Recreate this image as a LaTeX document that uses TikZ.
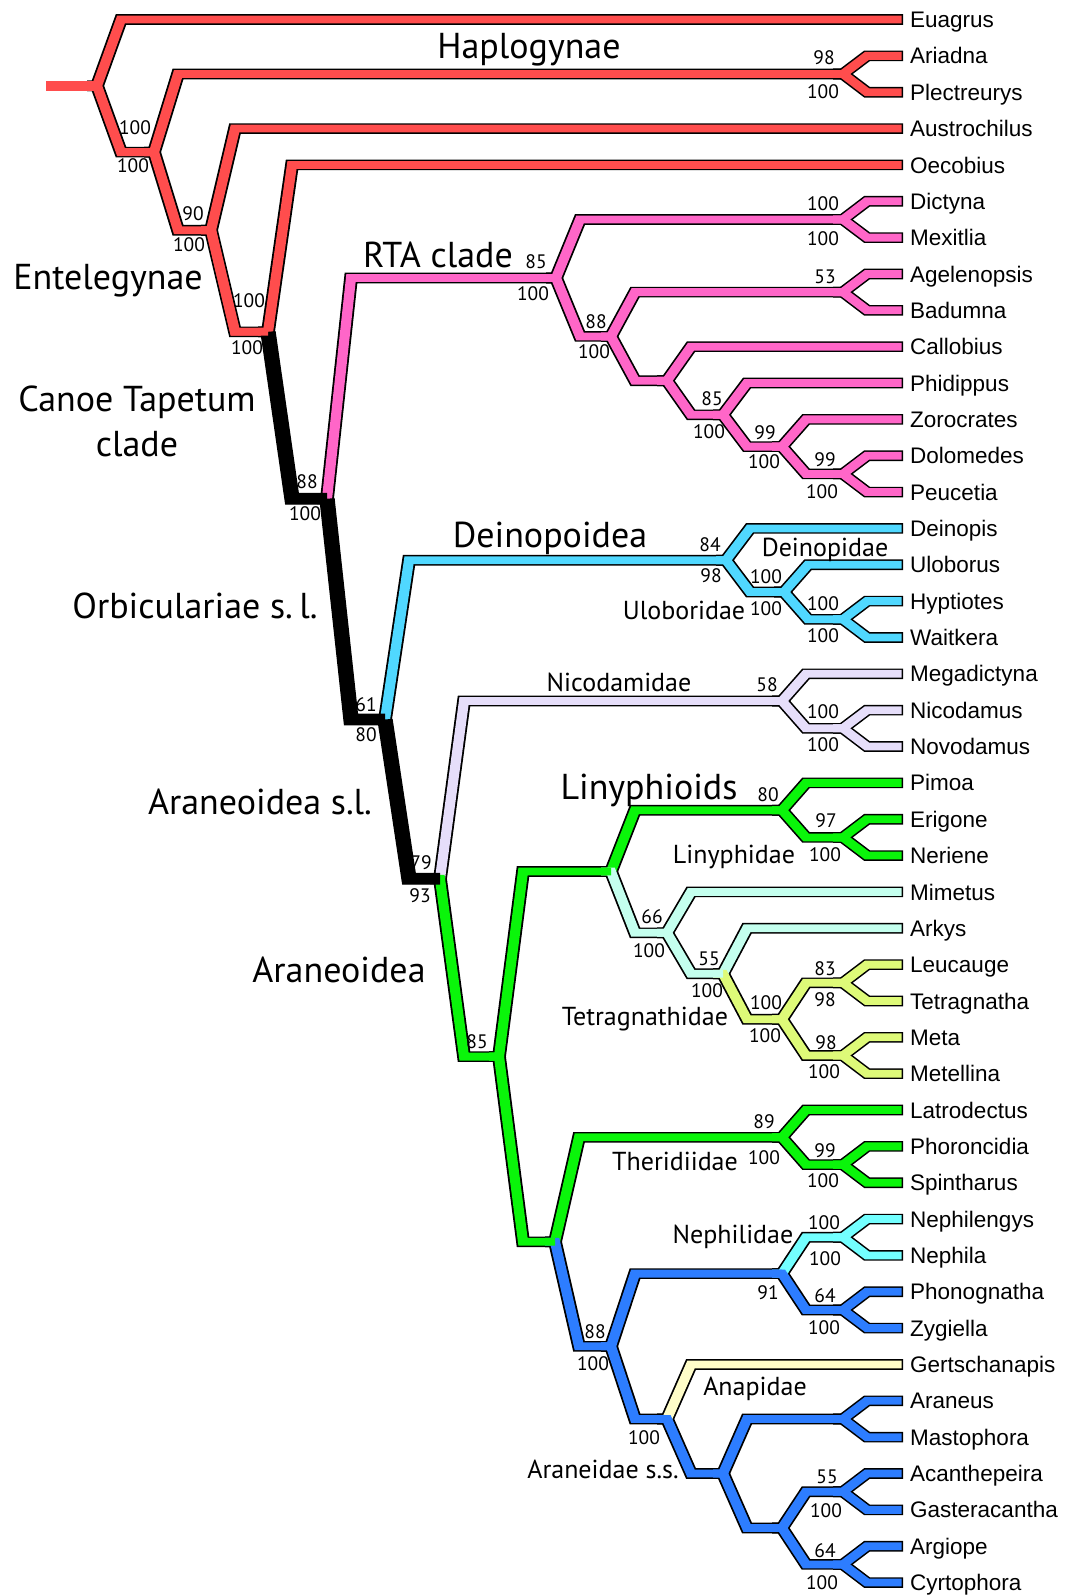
\documentclass[tikz,border=0pt]{standalone}
\usepackage{fontspec}
\setmainfont{PT Sans}
\newfontfamily\tipfont{Liberation Sans}
\usetikzlibrary{calc}
\definecolor{cR}{RGB}{255,77,77}
\definecolor{cP}{RGB}{255,102,200}
\definecolor{cS}{RGB}{80,216,255}
\definecolor{cL}{RGB}{230,222,250}
\definecolor{cG}{RGB}{10,245,10}
\definecolor{cT}{RGB}{196,255,238}
\definecolor{cY}{RGB}{222,250,120}
\definecolor{cC}{RGB}{115,255,255}
\definecolor{cB}{RGB}{45,125,255}
\definecolor{cA}{RGB}{255,253,200}
\definecolor{cK}{RGB}{0,0,0}
\newcommand\tn[3]{\coordinate (#1) at (#2,#3);\coordinate (#1-b) at (#2-10,#3);\coordinate (#1-d) at (#2+24,#3);}
\def\brlist{root/Euagrus/cR/1,hap/Ariadna/cR/1,hap/Plectreurys/cR/1,n2/hap/cR/0,n3/Austrochilus/cR/1,n4/Oecobius/cR/1,
dm/Dictyna/cP/1,dm/Mexitlia/cP/1,rta/dm/cP/0,ab/Agelenopsis/cP/1,ab/Badumna/cP/1,r2/ab/cP/0,r3/Callobius/cP/1,r4/Phidippus/cP/1,r5/Zorocrates/cP/1,dp/Dolomedes/cP/1,dp/Peucetia/cP/1,r5/dp/cP/0,r4/r5/cP/0,r3/r4/cP/0,r2/r3/cP/0,rta/r2/cP/0,n5/rta/cP/0,
d1/Deinopis/cS/1,d2/Uloborus/cS/1,d3/Hyptiotes/cS/1,d3/Waitkera/cS/1,d2/d3/cS/0,d1/d2/cS/0,n6/d1/cS/0,
nic/Megadictyna/cL/1,nn/Nicodamus/cL/1,nn/Novodamus/cL/1,nic/nn/cL/0,n7/nic/cL/0,
l1/Pimoa/cG/1,l2/Erigone/cG/1,l2/Neriene/cG/1,l1/l2/cG/0,l0/l1/cG/0,
t1/Mimetus/cT/1,t2/Arkys/cT/1,t4/Leucauge/cY/1,t4/Tetragnatha/cY/1,t3/t4/cY/0,t5/Meta/cY/1,t5/Metellina/cY/1,t3/t5/cY/0,t2/t3/cY/0,t1/t2/cT/0,l0/t1/cT/0,a1/l0/cG/0,
th1/Latrodectus/cG/1,th2/Phoroncidia/cG/1,th2/Spintharus/cG/1,th1/th2/cG/0,a2/th1/cG/0,
neph/Nephilengys/cC/1,neph/Nephila/cC/1,np/neph/cC/0,pz/Phonognatha/cB/1,pz/Zygiella/cB/1,np/pz/cB/0,b1/np/cB/0,
b2/Gertschanapis/cA/1,am/Araneus/cB/1,am/Mastophora/cB/1,b3/am/cB/0,ag/Acanthepeira/cB/1,ag/Gasteracantha/cB/1,b4/ag/cB/0,ac/Argiope/cB/1,ac/Cyrtophora/cB/1,b4/ac/cB/0,b3/b4/cB/0,b2/b3/cB/0,b1/b2/cB/0,a2/b1/cB/0,a1/a2/cG/0,n7/a1/cG/0,
n3/n4/cR/0,n2/n3/cR/0,root/n2/cR/0}
\def\backbone{n6/n7,n5/n6,n4/n5}
\def\leaves{Euagrus,Ariadna,Plectreurys,Austrochilus,Oecobius,Dictyna,Mexitlia,Agelenopsis,Badumna,Callobius,Phidippus,Zorocrates,Dolomedes,Peucetia,Deinopis,Uloborus,Hyptiotes,Waitkera,Megadictyna,Nicodamus,Novodamus,Pimoa,Erigone,Neriene,Mimetus,Arkys,Leucauge,Tetragnatha,Meta,Metellina,Latrodectus,Phoroncidia,Spintharus,Nephilengys,Nephila,Phonognatha,Zygiella,Gertschanapis,Araneus,Mastophora,Acanthepeira,Gasteracantha,Argiope,Cyrtophora}
\begin{document}
\begin{tikzpicture}[x=1pt,y=-1pt,
  casing/.style={line width=10.6pt, draw=black, line join=miter},
  fillln/.style={line width=7.8pt, line join=miter},
  blackbone/.style={line width=11.8pt, draw=black, line join=miter},
  tip/.style={font=\tipfont\fontsize{22.5}{27}\selectfont, inner sep=0pt, anchor=base west},
  big/.style={font=\fontsize{36}{43}\selectfont, inner sep=0pt, anchor=base},
  mid/.style={font=\fontsize{26}{31}\selectfont, inner sep=0pt, anchor=base},
  bs/.style={font=\fontsize{19.5}{23}\selectfont, inner sep=0pt}]
\useasboundingbox (0,0) rectangle (1066,1596);
\fill[white] (0,0) rectangle (1066,1596);
\begin{scope}[transform canvas={xscale=1.3}, x=0.769231pt]
\tn{root}{97}{85.8}
\tn{n2}{154}{152.1}
\tn{hap}{843}{74}
\tn{n3}{211}{230.2}
\tn{n4}{268}{331.8}
\tn{n5}{327}{498.7}
\tn{rta}{556}{278}
\tn{dm}{843}{219.5}
\tn{r2}{611}{336.4}
\tn{ab}{843}{292.1}
\tn{r3}{667}{380.7}
\tn{r4}{723}{414.8}
\tn{r5}{782}{446.6}
\tn{dp}{843}{473.9}
\tn{n6}{385}{719.5}
\tn{d1}{726}{560.2}
\tn{d2}{784}{592}
\tn{d3}{843}{619.3}
\tn{n7}{440}{878.8}
\tn{nic}{782}{701}
\tn{nn}{843}{728.3}
\tn{a1}{499}{1056.6}
\tn{l0}{611}{871.5}
\tn{l1}{782}{810.2}
\tn{l2}{843}{837.4}
\tn{t1}{667}{932.8}
\tn{t2}{723}{973.7}
\tn{t3}{782}{1019.2}
\tn{t4}{843}{982.8}
\tn{t5}{843}{1055.5}
\tn{a2}{555}{1241.8}
\tn{th1}{782}{1137.3}
\tn{th2}{843}{1164.6}
\tn{b1}{611}{1346.3}
\tn{np}{782}{1273.6}
\tn{neph}{843}{1237.2}
\tn{pz}{843}{1310}
\tn{b2}{667}{1419}
\tn{b3}{723}{1473.5}
\tn{am}{843}{1419}
\tn{b4}{782}{1528}
\tn{ag}{843}{1491.7}
\tn{ac}{843}{1564.4}
\coordinate (stub) at (46,85.8);
\foreach \n [count=\i from 0] in \leaves {\coordinate (\n) at (903,19.5+36.35*\i);}
\foreach \p/\c/\col/\s in \brlist {\draw[casing] (\p-b) -- (\p) -- (\p-d |- \c) -- (\c);}
\foreach \p/\c in \backbone {\draw[casing] (\p-b) -- (\p) -- (\p-d |- \c) -- (\c);}
\foreach \p/\c/\col/\s in \brlist {\draw[fillln, draw=\col, shorten >=\s pt] (\p-b) -- (\p) -- (\p-d |- \c) -- (\c);}
\foreach \p/\c in \backbone {\draw[blackbone] (\p) -- (\p-d |- \c) -- (\c);}
\draw[fillln, draw=cR] (n3-b) -- (n3) -- (n3-d |- n4) -- (n4);
\draw[line width=9.8pt, draw=cR] (stub) -- (root);
\end{scope}
\foreach \n [count=\i from 0] in \leaves {\node[tip] (t\n) at (910,27.6+36.35*\i) {\n};}
\foreach \x/\y/\t [count=\k] in {824/58/98, 823/92/100, 135/128/100, 133/166/100, 193/214/90, 189/245/100, 249/301/100, 247/348/100, 307/482/88, 305/514/100, 366/705/61, 366/735/80, 421/863/79, 420/896/93, 536/262/85, 533/294/100, 823/204/100, 823/239/100, 596/322/88, 594/352/100, 825/277/53, 712/399/85, 709/432/100, 765/433/99, 764/462/100, 825/460/99, 822/492/100, 710/545/84, 711/576/98, 766/577/100, 766/609/100, 823/604/100, 823/636/100, 767/685/58, 823/712/100, 823/745/100, 768/795/80, 826/821/97, 825/855/100, 477/1042/85, 652/917/66, 649/951/100, 709/959/55, 707/991/100, 766/1003/100, 765/1036/100, 825/969/83, 825/1000/98, 826/1043/98, 824/1072/100, 764/1122/89, 764/1158/100, 825/1151/99, 823/1181/100, 824/1223/100, 825/1259/100, 768/1293/91, 825/1296/64, 824/1328/100, 595/1332/88, 593/1364/100, 644/1438/100, 827/1477/55, 826/1511/100, 825/1551/64, 822/1583/100}
  {\node[bs] (bs\k) at (\x,\y) {\t};}
\node[big] (Lhap) at (529,58) {Haplogynae};
\node[big] (Lent) at (108,289) {Entelegynae};
\node[big] (Lcan1) at (137,411) {Canoe Tapetum};
\node[big] (Lcan2) at (137,456) {clade};
\node[big] (Lrta) at (438,267) {RTA clade};
\node[big] (Lorb) at (195,618) {Orbiculariae s.\hspace{0.18em}l.};
\node[big] (Ldei) at (550,547) {Deinopoidea};
\node[big] (Lasl) at (260,814) {Araneoidea s.l.};
\node[big] (Llin) at (649,799) {Linyphioids};
\node[big] (Lara) at (339,982) {Araneoidea};
\node[mid] (Mdei) at (825,556) {Deinopidae};
\node[mid] (Mulo) at (684,619) {Uloboridae};
\node[mid] (Mnic) at (619,691) {Nicodamidae};
\node[mid] (Mlin) at (734,863) {Linyphidae};
\node[mid] (Mtet) at (645,1025) {Tetragnathidae};
\node[mid] (Mthe) at (675,1170) {Theridiidae};
\node[mid] (Mnep) at (733,1243) {Nephilidae};
\node[mid] (Mana) at (755,1395) {Anapidae};
\node[mid] (Mara) at (603,1478) {Araneidae s.s.};
\end{tikzpicture}
\end{document}
